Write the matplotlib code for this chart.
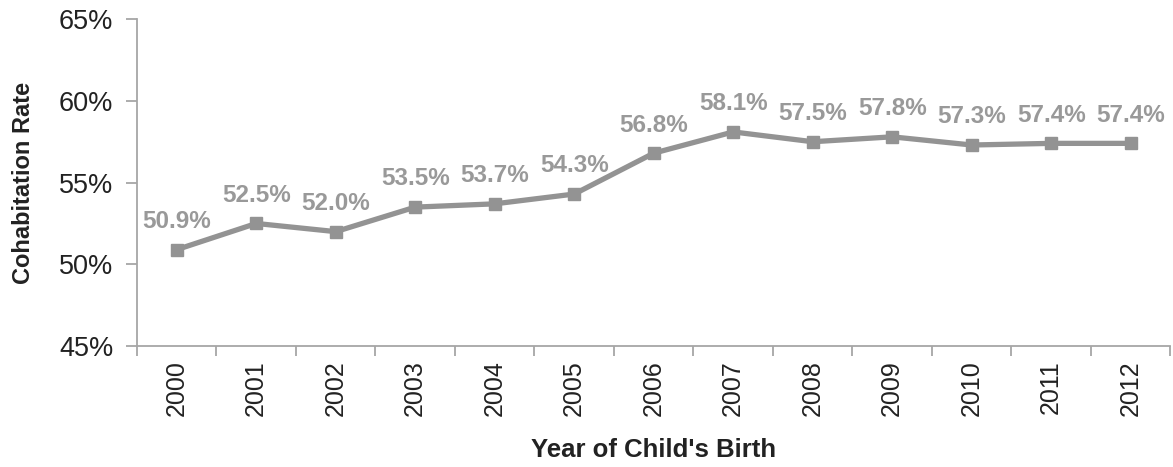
import matplotlib
matplotlib.use("Agg")
import matplotlib.pyplot as plt
from matplotlib.ticker import FixedLocator, FuncFormatter

years = ["2000", "2001", "2002", "2003", "2004", "2005", "2006",
         "2007", "2008", "2009", "2010", "2011", "2012"]
rates = [50.9, 52.5, 52.0, 53.5, 53.7, 54.3, 56.8, 58.1, 57.5, 57.8, 57.3, 57.4, 57.4]
yticks = [45, 50, 55, 60, 65]

plt.rcParams['font.family'] = ['Liberation Sans', 'DejaVu Sans']

fig = plt.figure(figsize=(11.73, 4.67), dpi=100)
ax = fig.add_axes([0.1168, 0.259, 0.881, 0.700])

line_col = '#939393'
axis_col = '#a6a6a6'
x = list(range(len(years)))
ax.plot(x, rates, color=line_col, lw=3.8, marker='s', ms=9,
        solid_joinstyle='miter', zorder=3)
for xi, v in zip(x, rates):
    ax.annotate(f"{v:.1f}%", (xi, v), xytext=(0, 12), textcoords='offset points',
                ha='center', va='bottom', fontsize=17.5, fontweight='bold',
                color='#999999')

ax.set_xlim(-0.5, len(years) - 0.5)
ax.set_ylim(45, 65)
ax.yaxis.set_major_locator(FixedLocator(yticks))
ax.yaxis.set_major_formatter(FuncFormatter(lambda v, p: f"{v:.0f}%"))
ax.set_xticks(x)
ax.set_xticklabels(years, rotation=90)
ax.set_xticks([i - 0.5 for i in range(len(years) + 1)], minor=True)
ax.tick_params(axis='x', which='major', length=0, pad=10, labelsize=18, labelcolor='#222222')
ax.tick_params(axis='x', which='minor', length=7, width=1.3, color=axis_col, direction='out')
ax.tick_params(axis='y', length=8, width=1.3, color=axis_col, pad=9, labelsize=19.5,
               labelcolor='#222222')

for s in ['top', 'right']:
    ax.spines[s].set_visible(False)
for s in ['left', 'bottom']:
    ax.spines[s].set_color(axis_col)
    ax.spines[s].set_linewidth(1.3)

ax.set_xlabel("Year of Child's Birth", fontsize=18.5, fontweight='bold', color='#222222', labelpad=16)
ax.set_ylabel("Cohabitation Rate", fontsize=17, fontweight='bold', color='#222222', labelpad=17)

fig.savefig("out.png", dpi=100)
